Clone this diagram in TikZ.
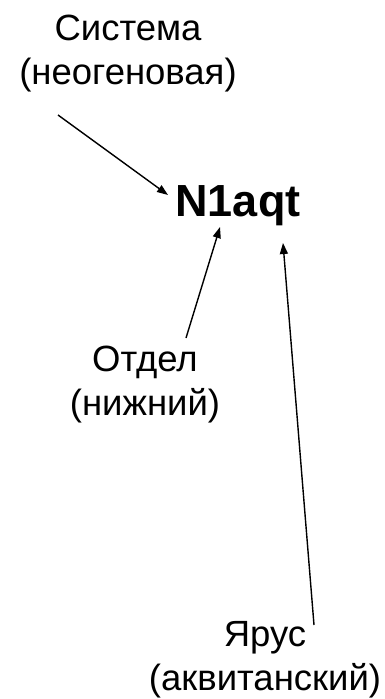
\documentclass[tikz,border=0pt]{standalone}
\usepackage{fontspec}
\setmainfont{Liberation Sans}
\usetikzlibrary{arrows.meta}
\begin{document}
\begin{tikzpicture}[x=1pt,y=-1pt,
  label/.style={align=center,inner sep=0pt,font=\fontsize{36.5}{44}\selectfont},
  formula/.style={inner sep=0pt,font=\fontsize{45}{50}\selectfont\bfseries},
  pointer/.style={line width=1.4pt,-{Triangle[length=11pt,width=8pt]}}]
\useasboundingbox (0,0) rectangle (384,699);
% labels
\node[label] (sys) at (128,54) {Система\\(неогеновая)};
\node[formula] (code) at (238,206) {N1aqt};
\node[label] (otd) at (145,385) {Отдел\\(нижний)};
\node[label] (yar) at (265,660) {Ярус\\(аквитанский)};
% connector ends
\coordinate (s0) at (58,115);
\coordinate (s1) at (168,195);
\coordinate (o0) at (186,338);
\coordinate (o1) at (220,227);
\coordinate (y0) at (314,625);
\coordinate (y1) at (283,243);
\draw[pointer] (s0) -- (s1);
\draw[pointer] (o0) -- (o1);
\draw[pointer] (y0) -- (y1);
\end{tikzpicture}
\end{document}
